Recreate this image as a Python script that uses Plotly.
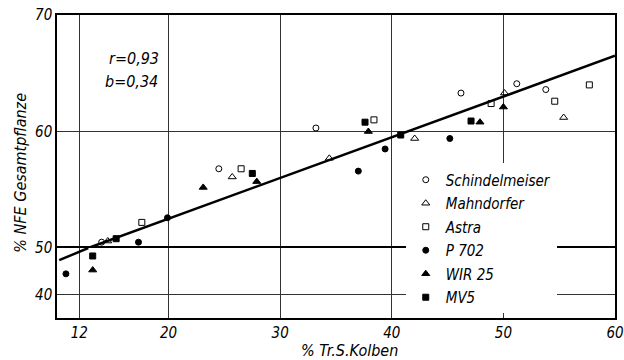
import plotly.graph_objects as go
from plotly.subplots import make_subplots

# ---- data ----
series_names = ["Schindelmeiser", "Mahndorfer", "Astra", "P 702", "WIR 25", "MV5"]
symbols = ["circle-open", "triangle-up-open", "square-open", "circle", "triangle-up", "square"]

schindel_x = [14.0, 24.5, 33.2, 46.2, 51.2, 53.8]
schindel_y = [50.5, 56.8, 60.3, 63.3, 64.1, 63.6]

mahn_x = [14.55, 25.7, 34.4, 42.05, 50.1, 55.4]
mahn_y = [50.6, 56.1, 57.7, 59.4, 63.3, 61.2]

astra_x = [17.6, 26.5, 38.4, 48.9, 54.6, 57.7]
astra_y = [52.2, 56.8, 61.0, 62.4, 62.6, 64.0]

p702_x = [10.8, 17.3, 19.9, 37.0, 39.4, 45.2]
p702_y = [44.5, 50.5, 52.6, 56.6, 58.5, 59.4]

wir_x = [13.2, 23.1, 27.9, 37.9, 47.9, 50.0]
wir_y = [45.3, 55.2, 55.7, 60.0, 60.8, 62.1]

mv5_x = [13.2, 15.3, 27.5, 37.6, 40.8, 47.1]
mv5_y = [48.3, 50.8, 56.4, 60.8, 59.7, 60.9]

# regression line (drawn through the axis break)
line_x = [10.2, 12.8, 60.0]
line_y = [47.4, 50.0, 66.5]

x_ticks = [12, 20, 30, 40, 50, 60]
y_ticks_upper = [60, 70]
y_ticks_lower = [40, 50]
BREAK = 50.0

xs = [schindel_x, mahn_x, astra_x, p702_x, wir_x, mv5_x]
ys = [schindel_y, mahn_y, astra_y, p702_y, wir_y, mv5_y]

FONT = "DejaVu Sans Condensed, Liberation Sans Narrow, DejaVu Sans, sans-serif"

fig = make_subplots(rows=2, cols=1, shared_xaxes=True, vertical_spacing=0,
                    row_heights=[0.769, 0.231])

# regression line split at the axis break
up_x = [x for x, y in zip(line_x, line_y) if y >= BREAK]
up_y = [y for y in line_y if y >= BREAK]
lo_x = [x for x, y in zip(line_x, line_y) if y <= BREAK]
lo_y = [y for y in line_y if y <= BREAK]
fig.add_trace(go.Scatter(x=up_x, y=up_y, mode="lines", line=dict(color="black", width=2.5),
                         showlegend=False, hoverinfo="skip"), row=1, col=1)
fig.add_trace(go.Scatter(x=lo_x, y=lo_y, mode="lines", line=dict(color="black", width=2.5),
                         showlegend=False, hoverinfo="skip"), row=2, col=1)

for name, sym, sx, sy in zip(series_names, symbols, xs, ys):
    size = 7 if "triangle" in sym else 6
    ux = [a for a, b in zip(sx, sy) if b >= BREAK]
    uy = [b for b in sy if b >= BREAK]
    lx = [a for a, b in zip(sx, sy) if b < BREAK]
    ly = [b for b in sy if b < BREAK]
    mk = dict(symbol=sym, size=size, color="black", line=dict(color="black", width=1))
    fig.add_trace(go.Scatter(x=ux, y=uy, mode="markers", marker=mk, name=name,
                             legendgroup=name, showlegend=True), row=1, col=1)
    fig.add_trace(go.Scatter(x=lx, y=ly, mode="markers", marker=mk, name=name,
                             legendgroup=name, showlegend=False), row=2, col=1)

grid = dict(showgrid=True, gridcolor="#333333", gridwidth=1, zeroline=False,
            showline=True, linecolor="black", linewidth=1.5, ticks="", automargin=False)
tickfont = dict(family=FONT, size=15, color="black", style="italic")

fig.update_xaxes(range=[10.0, 60.0], tickvals=x_ticks, **grid)
fig.update_xaxes(showticklabels=False, mirror=False, side="top", row=1, col=1)
fig.update_xaxes(showticklabels=True, mirror=True, tickfont=tickfont, row=2, col=1)
fig.update_yaxes(range=[BREAK, 70], tickvals=y_ticks_upper, tickfont=tickfont, mirror=True,
                 domain=[0.231, 1.0], row=1, col=1, **grid)
fig.update_yaxes(range=[35.1, BREAK], tickvals=y_ticks_lower, tickfont=tickfont, mirror=True,
                 domain=[0.0, 0.231], row=2, col=1, **grid)

fig.update_layout(
    width=624, height=360,
    margin=dict(l=57, r=9, t=15, b=42, autoexpand=False),
    paper_bgcolor="white", plot_bgcolor="white",
    font=dict(family=FONT, color="black"),
    legend=dict(x=0.625, y=0.51, xanchor="left", yanchor="top",
                bgcolor="white", borderwidth=0,
                font=dict(family=FONT, size=15, color="black", style="italic"),
                tracegroupgap=1, itemwidth=30),
    annotations=[
        dict(text="r=0,93", x=0.09, y=0.858, xref="paper", yref="paper",
             xanchor="left", yanchor="middle", showarrow=False,
             font=dict(family=FONT, size=16, style="italic")),
        dict(text="b=0,34", x=0.083, y=0.779, xref="paper", yref="paper",
             xanchor="left", yanchor="middle", showarrow=False,
             font=dict(family=FONT, size=16, style="italic")),
        dict(text="% NFE Gesamtpflanze", x=-0.066, y=0.48, xref="paper", yref="paper",
             xanchor="center", yanchor="middle", textangle=-90, showarrow=False,
             font=dict(family=FONT, size=16, style="italic")),
        dict(text="% Tr.S.Kolben", x=0.525, y=-0.106, xref="paper", yref="paper",
             xanchor="center", yanchor="middle", showarrow=False,
             font=dict(family=FONT, size=16, style="italic")),
    ],
)

fig.write_html("out.html", config={"displayModeBar": False},
               post_script="document.body.style.margin='0px';")
